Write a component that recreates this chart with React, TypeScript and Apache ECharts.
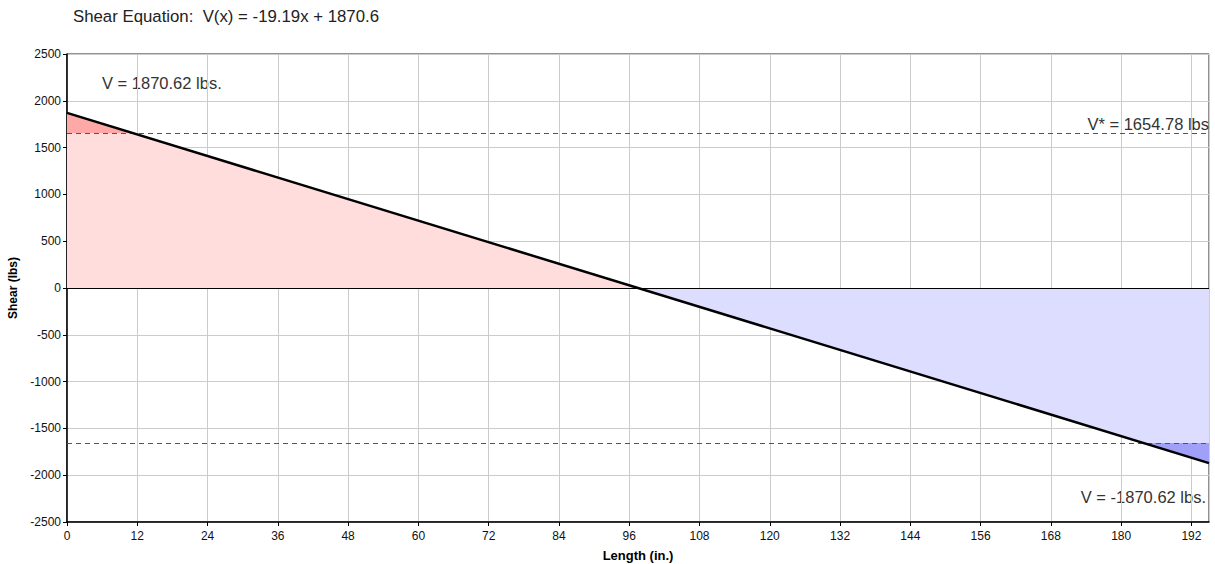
import React, { useEffect, useRef } from "react";
import * as echarts from "echarts";

const titleText = "Shear Equation:  V(x) = -19.19x + 1870.6";
const shearX = [0, 97.5, 195];
const shearV = [1870.62, 0, -1870.62];
const vStar = 1654.78;
const vStarCrossX = [11.25, 183.75];
const xTicks = [0, 12, 24, 36, 48, 60, 72, 84, 96, 108, 120, 132, 144, 156, 168, 180, 192];
const yTicks = [-2500, -2000, -1500, -1000, -500, 0, 500, 1000, 1500, 2000, 2500];
const labelMax = "V = 1870.62 lbs.";
const labelMin = "V = -1870.62 lbs.";
const labelStar = "V* = 1654.78 lbs";

const FONT = "Liberation Sans, Arial, sans-serif";

export default function App() {
  const ref = useRef<HTMLDivElement>(null);
  useEffect(() => {
    const chart = echarts.init(ref.current!, null, { renderer: "svg" });
    const posPart = [[shearX[0], shearV[0]], [shearX[1], shearV[1]]];
    const negPart = [[shearX[1], shearV[1]], [shearX[2], shearV[2]]];
    const topPart = [[shearX[0], shearV[0]], [vStarCrossX[0], vStar]];
    const botPart = [[vStarCrossX[1], -vStar], [shearX[2], shearV[2]]];
    const fullLine = [[shearX[0], shearV[0]], [shearX[2], shearV[2]]];
    const areaSeries = (data: number[][], color: string, origin: number) => ({
      type: "line",
      data,
      symbol: "none",
      silent: true,
      lineStyle: { width: 0, opacity: 0 },
      areaStyle: { color, opacity: 1, origin },
      z: 1,
    });
    chart.setOption({
      animation: false,
      textStyle: { fontFamily: FONT },
      grid: {
        left: 67,
        right: 6,
        top: 54,
        bottom: 42,
        show: true,
        borderColor: "#222",
        borderWidth: 1,
        backgroundColor: "transparent",
        containLabel: false,
        outerBoundsMode: "none",
      },
      xAxis: {
        type: "value",
        min: xTicks[0],
        max: shearX[2],
        interval: 12,
        name: "Length (in.)",
        nameLocation: "middle",
        nameGap: 27,
        nameTextStyle: { fontSize: 13, fontWeight: "bold", color: "#000", fontFamily: FONT },
        axisLine: { show: true, onZero: false, lineStyle: { color: "#000", width: 1.5 } },
        axisTick: { show: true, length: 4, lineStyle: { color: "#000" } },
        axisLabel: { fontSize: 12, color: "#111", margin: 8, showMaxLabel: false, fontFamily: FONT },
        splitLine: { show: true, lineStyle: { color: "#cccccc", width: 1 } },
      },
      yAxis: {
        type: "value",
        min: yTicks[0],
        max: yTicks[yTicks.length - 1],
        interval: 500,
        name: "Shear (lbs)",
        nameLocation: "middle",
        nameRotate: 90,
        nameGap: 47,
        nameTextStyle: { fontSize: 12, fontWeight: "bold", color: "#000", fontFamily: FONT },
        axisLine: { show: true, lineStyle: { color: "#000", width: 1.5 } },
        axisTick: { show: true, length: 4, lineStyle: { color: "#000" } },
        axisLabel: {
          fontSize: 12,
          color: "#111",
          margin: 6,
          fontFamily: FONT,
          formatter: (v: number) => String(v),
        },
        splitLine: { show: true, lineStyle: { color: "#cccccc", width: 1 } },
      },
      series: [
        areaSeries(posPart, "#ffdddd", 0),
        areaSeries(negPart, "#ddddff", 0),
        { ...areaSeries(topPart, "#ffa8a8", vStar), z: 2 },
        { ...areaSeries(botPart, "#a0a0f8", -vStar), z: 2 },
        {
          type: "line",
          data: fullLine,
          symbol: "none",
          silent: true,
          lineStyle: { color: "#000", width: 2.5 },
          z: 5,
          markLine: {
            silent: true,
            symbol: "none",
            data: [
              {
                yAxis: vStar,
                lineStyle: { color: "#555", type: [5, 4], width: 1 },
                label: {
                  show: true,
                  position: "insideEndTop",
                  formatter: labelStar,
                  fontSize: 16.5,
                  color: "#333",
                  fontFamily: FONT,
                  distance: [0, 1],
                },
              },
              {
                yAxis: -vStar,
                lineStyle: { color: "#555", type: [5, 4], width: 1 },
                label: { show: false },
              },
              {
                yAxis: 0,
                lineStyle: { color: "#000", type: "solid", width: 1 },
                label: { show: false },
              },
            ],
          },
        },
      ],
      graphic: [
        {
          type: "text",
          left: 73,
          top: 8,
          style: { text: titleText, fontSize: 16.8, fill: "#222", fontFamily: FONT },
        },
        {
          type: "text",
          left: 102,
          top: 74,
          style: { text: labelMax, fontSize: 16.5, fill: "#333", fontFamily: FONT },
        },
        {
          type: "text",
          x: 1206,
          y: 488,
          style: { text: labelMin, fontSize: 16.5, fill: "#333", fontFamily: FONT, align: "right" },
        },
      ],
    });
    return () => chart.dispose();
  }, []);
  return (
    <div
      ref={ref}
      style={{ position: "fixed", left: 0, top: 0, width: 1215, height: 564, background: "#fff" }}
    />
  );
}
